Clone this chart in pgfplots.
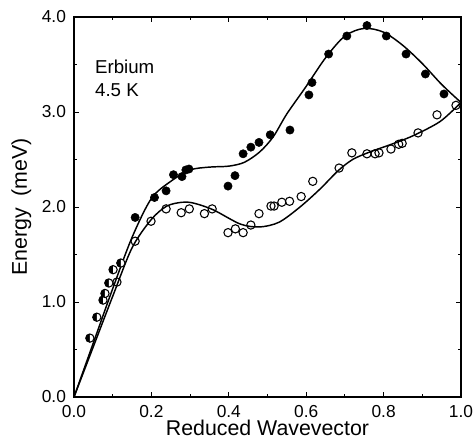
\documentclass[border=0pt]{standalone}
\usepackage{fontspec}
\setmainfont{Liberation Sans}
\usepackage{pgfplots}
\pgfplotsset{compat=1.18}
\usetikzlibrary{plotmarks}
\begin{document}
\begin{tikzpicture}
\begin{axis}[
  scale only axis,
  width=290.25pt, height=285pt,
  xmin=0, xmax=1, ymin=0, ymax=4,
  xtick={0,0.2,0.4,0.6,0.8,1.0},
  ytick={0,1,2,3,4},
  minor x tick num=1, minor y tick num=1,
  tick align=inside,
  major tick length=3.75pt, minor tick length=2.4pt,
  axis line style={line width=0.9pt},
  every tick/.style={line width=0.7pt, black},
  /pgf/number format/assume math mode=true,
  /pgf/number format/.cd, fixed, fixed zerofill, precision=1, /pgfplots/.cd,
  ticklabel style={font=\fontsize{13}{15}\selectfont},
  yticklabel style={xshift=-2.5pt},
  xticklabel style={inner sep=1pt, yshift=-4.8pt},
  xlabel={Reduced Wavevector},
  ylabel={Energy\ \ (meV)},
  label style={font=\fontsize{16}{19}\selectfont},
  xlabel style={inner sep=0pt, yshift=-1pt},
  ylabel style={yshift=1pt},
  clip=false,
]
% upper fitted curve
\addplot[black, line width=1.1pt, smooth, tension=0.5, mark=none] coordinates {
(0,0) (0.05,0.57) (0.10,1.14) (0.15,1.68) (0.20,2.09) (0.25,2.27) (0.30,2.39)
(0.35,2.42) (0.40,2.43) (0.44,2.47) (0.48,2.58) (0.515,2.74) (0.55,2.98)
(0.60,3.27) (0.65,3.57) (0.70,3.80) (0.75,3.88) (0.80,3.84) (0.85,3.70)
(0.90,3.51) (0.95,3.29) (1.0,3.10)};
% lower fitted curve
\addplot[black, line width=1.1pt, smooth, tension=0.5, mark=none] coordinates {
(0,0) (0.05,0.53) (0.10,1.06) (0.15,1.57) (0.20,1.87) (0.24,2.01) (0.28,2.05)
(0.31,2.04) (0.36,1.97) (0.43,1.82) (0.48,1.79) (0.53,1.84) (0.584,2.0)
(0.636,2.19) (0.682,2.38) (0.72,2.50) (0.765,2.58) (0.82,2.66) (0.876,2.75)
(0.946,2.90) (1.0,3.10)};
% filled points
\addplot[only marks, mark=*, mark size=3.1pt, mark options={fill=black, draw=black}] coordinates {
(0.158,1.89) (0.208,2.10) (0.238,2.17) (0.257,2.34) (0.279,2.32) (0.289,2.39)
(0.297,2.40) (0.398,2.22) (0.416,2.33) (0.437,2.56) (0.457,2.63) (0.478,2.68)
(0.507,2.76) (0.558,2.81) (0.607,3.18) (0.615,3.31) (0.658,3.61) (0.705,3.80)
(0.757,3.91) (0.807,3.80) (0.858,3.61) (0.908,3.40) (0.956,3.19)};
% open points
\addplot[only marks, mark=o, mark size=3.1pt, mark options={fill=white, draw=black, line width=0.8pt}] coordinates {
(0.111,1.21) (0.158,1.64) (0.199,1.85) (0.238,1.98) (0.277,1.94) (0.298,1.98)
(0.337,1.93) (0.357,1.98) (0.398,1.73) (0.417,1.77) (0.437,1.73) (0.457,1.81)
(0.478,1.93) (0.509,2.01) (0.517,2.01) (0.537,2.05) (0.557,2.06) (0.587,2.11)
(0.617,2.27) (0.685,2.41) (0.718,2.57) (0.757,2.56) (0.778,2.56) (0.788,2.57)
(0.819,2.61) (0.839,2.66) (0.848,2.67) (0.889,2.78) (0.938,2.97) (0.987,3.07)};
% half-filled points (overlapping)
\addplot[only marks, mark=halfcircle*, mark size=3.1pt, mark options={fill=black, draw=black, line width=0.8pt, rotate=90}, mark color=white] coordinates {
(0.041,0.62) (0.059,0.84) (0.075,1.02) (0.080,1.09) (0.090,1.20) (0.101,1.34) (0.121,1.41)};
\node[anchor=base west, font=\fontsize{14}{16}\selectfont, inner sep=0pt] at (axis cs:0.054,3.41) {Erbium};
\node[anchor=base west, font=\fontsize{14}{16}\selectfont, inner sep=0pt] at (axis cs:0.054,3.16) {4.5 K};
\end{axis}
\pgfresetboundingbox
\path[use as bounding box] ([xshift=-55.5pt,yshift=-30.75pt]current axis.south west) rectangle ([xshift=10.5pt,yshift=12.75pt]current axis.north east);
\end{tikzpicture}
\end{document}
